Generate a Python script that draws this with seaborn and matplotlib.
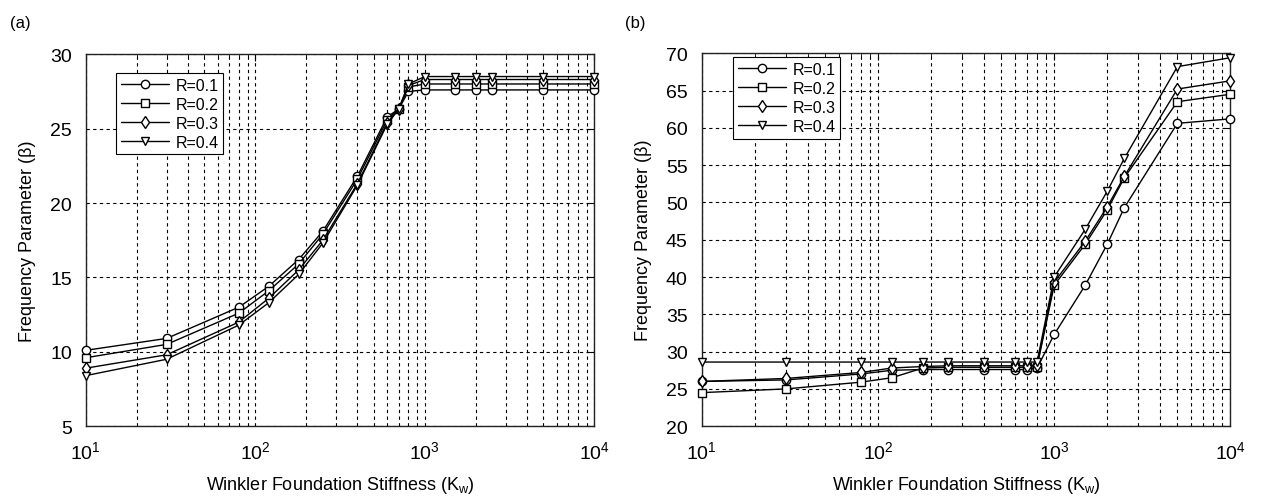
import numpy as np
import pandas as pd
import seaborn as sns
import matplotlib.pyplot as plt

sns.set_style('white')
plt.rcParams['font.family'] = ['Liberation Sans', 'DejaVu Sans']
plt.rcParams['mathtext.fontset'] = 'custom'
plt.rcParams['mathtext.rm'] = 'Liberation Sans'
plt.rcParams['mathtext.it'] = 'Liberation Sans'
plt.rcParams['text.color'] = 'black'
plt.rcParams['axes.labelcolor'] = 'black'
plt.rcParams['xtick.color'] = 'black'
plt.rcParams['ytick.color'] = 'black'

# Winkler stiffness values (same in both panels)
kw = [10, 30, 80, 120, 180, 250, 400, 600, 700, 800, 1000, 1500, 2000, 2500, 5000, 10000]
r_labels = ['R=0.1', 'R=0.2', 'R=0.3', 'R=0.4']

# panel (a)
a_r1 = [10.1, 10.9, 13.0, 14.4, 16.2, 18.1, 21.8, 25.8, 26.3, 27.5, 27.6, 27.6, 27.6, 27.6, 27.6, 27.6]
a_r2 = [9.6, 10.5, 12.6, 14.1, 15.9, 17.9, 21.6, 25.6, 26.3, 27.8, 28.0, 28.0, 28.0, 28.0, 28.0, 28.0]
a_r3 = [8.9, 9.8, 12.0, 13.6, 15.5, 17.5, 21.3, 25.4, 26.3, 27.9, 28.3, 28.3, 28.3, 28.3, 28.3, 28.3]
a_r4 = [8.4, 9.5, 11.8, 13.3, 15.2, 17.3, 21.2, 25.3, 26.3, 28.0, 28.5, 28.5, 28.5, 28.5, 28.5, 28.5]

# panel (b)
b_r1 = [26.0, 26.2, 27.0, 27.5, 27.6, 27.6, 27.6, 27.6, 27.6, 27.8, 32.3, 38.9, 44.4, 49.3, 60.6, 61.2]
b_r2 = [24.5, 25.0, 25.9, 26.5, 27.8, 27.9, 27.9, 27.9, 27.9, 28.0, 38.9, 44.4, 49.0, 53.3, 63.5, 64.5]
b_r3 = [26.0, 26.4, 27.2, 27.8, 28.0, 28.1, 28.1, 28.1, 28.1, 28.2, 39.3, 44.8, 49.4, 53.5, 65.2, 66.3]
b_r4 = [28.6, 28.6, 28.6, 28.6, 28.6, 28.6, 28.6, 28.6, 28.6, 28.6, 40.0, 46.4, 51.5, 55.9, 68.2, 69.4]


def long_df(series):
    rows = []
    for lab, vals in zip(r_labels, series):
        for k, v in zip(kw, vals):
            rows.append({'K': k, 'beta': v, 'R': lab})
    return pd.DataFrame(rows)


dfa = long_df([a_r1, a_r2, a_r3, a_r4])
dfb = long_df([b_r1, b_r2, b_r3, b_r4])

fig = plt.figure(figsize=(12.62, 5.02), dpi=100)
ax1 = fig.add_axes([0.068, 0.149, 0.403, 0.741])
ax2 = fig.add_axes([0.556, 0.149, 0.419, 0.743])


def draw(ax, df, ylim, yticks, legloc):
    sns.lineplot(data=df, x='K', y='beta', style='R', markers=['o', 's', 'd', 'v'],
                 dashes=False, color='black', lw=1.0, markersize=6,
                 markerfacecolor='white', markeredgecolor='black', markeredgewidth=1.0,
                 clip_on=False, zorder=3, ax=ax)
    ax.set_xscale('log')
    ax.set_xlim(10, 10000)
    ax.set_ylim(*ylim)
    ax.set_yticks(yticks)
    ax.grid(True, which='major', axis='both', ls=(0, (3, 3)), color='black', lw=0.8)
    ax.grid(True, which='minor', axis='x', ls=(0, (3, 3)), color='black', lw=0.8)
    ax.tick_params(which='both', direction='in', top=True, right=True, labelsize=14)
    ax.tick_params(which='major', length=5, pad=10)
    ax.tick_params(which='minor', length=3)
    for s in ax.spines.values():
        s.set_color('#222222')
        s.set_linewidth(1.0)
    ax.set_xlabel('Winkler Foundation Stiffness (K$_\\mathrm{w}$)', fontsize=13, labelpad=9)
    ax.set_ylabel('Frequency Parameter (\u03b2)', fontsize=13, labelpad=10)
    leg = ax.legend(loc='upper left', bbox_to_anchor=legloc, fontsize=11.5, handlelength=3,
                    frameon=True, fancybox=False, edgecolor='black', framealpha=1,
                    borderpad=0.3, labelspacing=0.25, handletextpad=0.4, borderaxespad=0)
    leg.get_frame().set_linewidth(0.8)
    leg.set_zorder(5)


draw(ax1, dfa, (5, 30), [5, 10, 15, 20, 25, 30], (0.06, 0.95))
draw(ax2, dfb, (20, 70), list(range(20, 71, 5)), (0.06, 0.99))

fig.text(0.008, 0.945, '(a)', fontsize=12)
fig.text(0.495, 0.945, '(b)', fontsize=12)

fig.savefig('out.png', dpi=100)
